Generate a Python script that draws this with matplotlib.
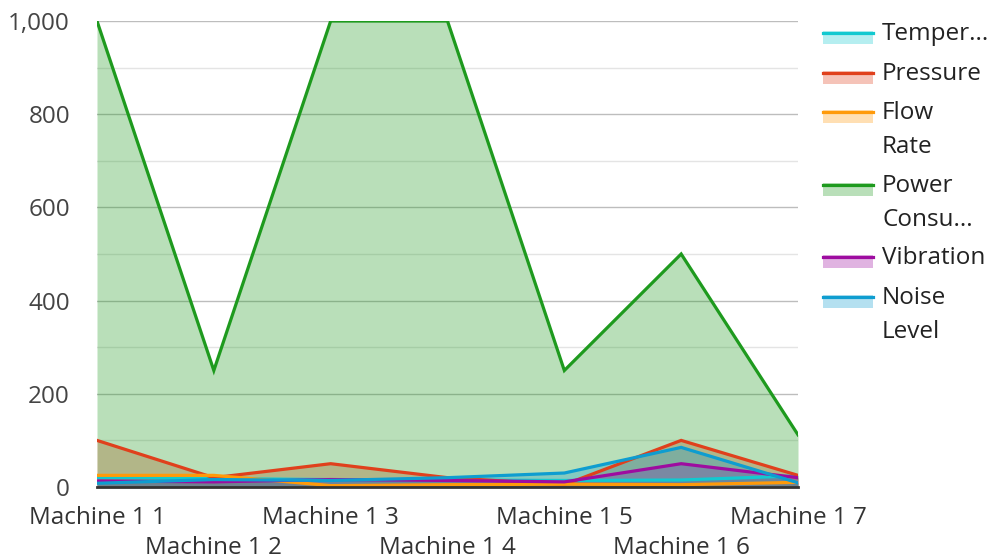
import matplotlib
matplotlib.use("Agg")
import matplotlib.pyplot as plt
from matplotlib.patches import Rectangle
from matplotlib.lines import Line2D
from matplotlib.ticker import FuncFormatter, MultipleLocator

plt.rcParams["font.family"] = ["Open Sans", "DejaVu Sans"]

machines = ["Machine 1 1", "Machine 1 2", "Machine 1 3", "Machine 1 4",
            "Machine 1 5", "Machine 1 6", "Machine 1 7"]
series_names = ["Temper...", "Pressure", "Flow\nRate", "Power\nConsu...",
                "Vibration", "Noise\nLevel"]
temperature = [20, 18, 16, 15, 14, 15, 24]
pressure = [100, 20, 50, 20, 5, 100, 25]
flow_rate = [25, 25, 3, 5, 6, 5, 10]
power = [1000, 250, 1000, 1000, 250, 500, 112]
vibration = [13, 11, 16, 14, 11, 50, 20]
noise = [8, 16, 14, 20, 30, 85, 9]
all_series = [temperature, pressure, flow_rate, power, vibration, noise]

COLORS = ["#12C9D0", "#E0401C", "#FF9A0A", "#1E9A1E", "#9E0CA0", "#0E9DD0"]
W, H = 989, 560
FS = 17.5

fig = plt.figure(figsize=(W / 100, H / 100), dpi=100)
ax = fig.add_axes([97 / W, 1 - 487 / H, (798 - 97) / W, (487 - 21) / H])

x = list(range(len(machines)))
for vals, c in zip(all_series, COLORS):
    ax.fill_between(x, 0, vals, color=c, alpha=0.31, linewidth=0, zorder=2)
for vals, c in zip(all_series, COLORS):
    ax.plot(x, vals, color=c, lw=2.3, zorder=3, solid_joinstyle="miter")

ax.set_xlim(0, len(machines) - 1)
ax.set_ylim(0, 1000)
ax.yaxis.set_major_locator(MultipleLocator(200))
ax.yaxis.set_minor_locator(MultipleLocator(100))
ax.yaxis.set_major_formatter(FuncFormatter(lambda v, p: f"{int(v):,}"))
ax.grid(axis="y", which="major", color="#bdbdbd", lw=1, zorder=1)
ax.grid(axis="y", which="minor", color="#e4e4e4", lw=1, zorder=1)
ax.tick_params(axis="y", which="both", length=0, labelsize=FS,
               labelcolor="#444444", pad=19.5)
ax.set_xticks(x)
ax.set_xticklabels(machines)
ax.tick_params(axis="x", length=0, labelsize=FS, labelcolor="#333333")
# staggered labels: every other one drops to a second row
for i, tick in enumerate(ax.xaxis.get_major_ticks()):
    tick.set_pad(13.5 if i % 2 == 0 else 35)
for s in ("top", "right", "left"):
    ax.spines[s].set_visible(False)
ax.spines["bottom"].set_color("#333333")
ax.spines["bottom"].set_linewidth(2)
ax.spines["bottom"].set_zorder(4)

# legend drawn by hand: thin line over a pale swatch
legend_y = [31, 71, 110, 183, 255, 295]
for name, c, y in zip(series_names, COLORS, legend_y):
    fig.add_artist(Rectangle((823 / W, 1 - (y + 13) / H), 50 / W, 13 / H,
                             transform=fig.transFigure, color=c, alpha=0.31, lw=0))
    fig.add_artist(Line2D([823 / W, 873 / W], [1 - (y + 1.5) / H] * 2,
                          transform=fig.transFigure, color=c, lw=2.3))
    fig.text(882 / W, 1 - (y - 9) / H, name, fontsize=FS, color="#222222",
             ha="left", va="top", linespacing=1.55,
             transform=fig.transFigure)

fig.savefig("out.png", dpi=100)
